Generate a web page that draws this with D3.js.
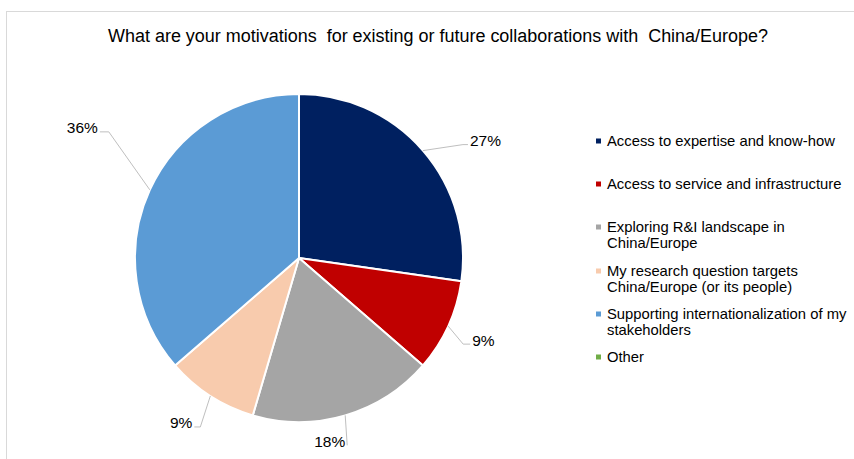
<!DOCTYPE html>
<html>
<head>
<meta charset="utf-8">
<script src="https://cdn.jsdelivr.net/npm/d3@7"></script>
<style>
  html, body { margin: 0; padding: 0; background: #fff; }
  svg { display: block; font-family: "Liberation Sans", Arial, sans-serif; }
</style>
</head>
<body>
<svg id="chart" width="854" height="459"></svg>
<script>
// ---- data ----
const title = "What are your motivations  for existing or future collaborations with  China/Europe?";
const categories = [
  "Access to expertise and know-how",
  "Access to service and infrastructure",
  "Exploring R&I landscape in China/Europe",
  "My research question targets China/Europe (or its people)",
  "Supporting internationalization of my stakeholders",
  "Other"
];
const legendLines = [
  ["Access to expertise and know-how"],
  ["Access to service and infrastructure"],
  ["Exploring R&I landscape in", "China/Europe"],
  ["My research question targets", "China/Europe (or its people)"],
  ["Supporting internationalization of my", "stakeholders"],
  ["Other"]
];
const responses = [3, 1, 2, 1, 4, 0];
const colors = ["#002060", "#C00000", "#A5A5A5", "#F8CBAD", "#5B9BD5", "#70AD47"];

// ---- layout ----
const W = 854, H = 459;
const cx = 299, cy = 258, R = 164;
// label leader end offsets (relative to the slice's outer edge point at mid angle)
const labelLayout = [
  { dx: 45, dy: -6, side: 1, elbow: 5 },
  { dx: 22, dy: 18, side: 1, elbow: 7 },
  { dx: 2, dy: 30, side: -1, elbow: 0 },
  { dx: -16, dy: 31, side: -1, elbow: 6 },
  { dx: -50, dy: -58, side: -1, elbow: 9 },
  null
];
const legendX = 596, legendTextX = 607;
const legendY = [141, 184, 227, 271, 314, 357];
const legendLineH = 16;

const svg = d3.select("#chart");

// frame
svg.append("rect")
  .attr("x", 6.5).attr("y", 11.5)
  .attr("width", W + 20).attr("height", H + 20)
  .attr("fill", "none").attr("stroke", "#d9d9d9").attr("stroke-width", 1);

// title
svg.append("text")
  .attr("x", 438).attr("y", 42)
  .attr("text-anchor", "middle")
  .attr("font-size", 18)
  .attr("fill", "#000")
  .attr("textLength", 660)
  .attr("lengthAdjust", "spacingAndGlyphs")
  .style("white-space", "pre")
  .text(title);

// pie
const total = d3.sum(responses);
const pie = d3.pie().sort(null).value(d => d)(responses);
const arc = d3.arc().innerRadius(0).outerRadius(R);
const color = d3.scaleOrdinal().domain(categories).range(colors);

const g = svg.append("g").attr("transform", `translate(${cx},${cy})`);
g.selectAll("path.slice")
  .data(pie)
  .join("path")
  .attr("class", "slice")
  .attr("d", arc)
  .attr("fill", (d, i) => color(categories[i]))
  .attr("stroke", "#fff")
  .attr("stroke-width", 2)
  .attr("stroke-linejoin", "round");

// labels with leader lines
pie.forEach((d, i) => {
  const lay = labelLayout[i];
  if (!lay || d.value === 0) return;
  const mid = (d.startAngle + d.endAngle) / 2;
  const ex = Math.sin(mid) * R, ey = -Math.cos(mid) * R;
  const Ex = ex + lay.dx, Ey = ey + lay.dy;
  const elx = Ex - lay.side * lay.elbow;
  g.append("path")
    .attr("d", `M${ex},${ey}L${elx},${Ey}L${Ex},${Ey}`)
    .attr("fill", "none")
    .attr("stroke", "#bfbfbf")
    .attr("stroke-width", 1);
  g.append("text")
    .attr("x", Ex + lay.side * 2)
    .attr("y", Ey - 4)
    .attr("dy", "0.35em")
    .attr("text-anchor", lay.side > 0 ? "start" : "end")
    .attr("font-size", 15.5)
    .attr("fill", "#000")
    .text(Math.round(d.value / total * 100) + "%");
});

// legend
const leg = svg.append("g");
categories.forEach((c, i) => {
  leg.append("rect")
    .attr("x", legendX).attr("y", legendY[i] - 2.5)
    .attr("width", 5).attr("height", 5)
    .attr("fill", color(c));
  const t = leg.append("text")
    .attr("x", legendTextX)
    .attr("font-size", 14.8)
    .attr("fill", "#000");
  legendLines[i].forEach((line, j) => {
    t.append("tspan")
      .attr("x", legendTextX)
      .attr("y", legendY[i] + j * legendLineH)
      .attr("dy", "0.35em")
      .text(line);
  });
});
</script>
</body>
</html>
